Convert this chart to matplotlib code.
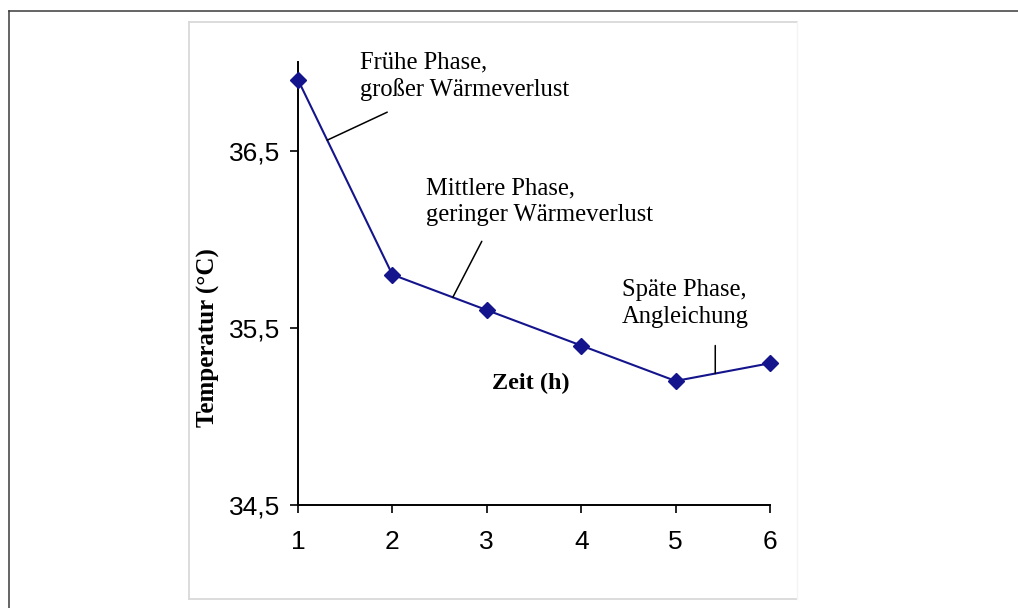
import numpy as np
import matplotlib
matplotlib.use("Agg")
import matplotlib.pyplot as plt
from matplotlib.lines import Line2D

# data
zeit = [1, 2, 3, 4, 5, 6]
temperatur = [36.9, 35.8, 35.6, 35.4, 35.2, 35.3]
y_ticks = [34.5, 35.5, 36.5]
phase_texts = ["Frühe Phase,\ngroßer Wärmeverlust",
               "Mittlere Phase,\ngeringer Wärmeverlust",
               "Späte Phase,\nAngleichung"]

serif = "Liberation Serif"
sans = "Liberation Sans"

fig = plt.figure(figsize=(10.18, 6.08), dpi=100)
ax = fig.add_axes([0.2927, 0.1694, 0.4637, 0.7286])

ax.plot(zeit, temperatur, color="#14148c", linewidth=1.5, marker="D",
        markersize=8, markerfacecolor="#14148c", markeredgecolor="#14148c",
        clip_on=False, zorder=3)

ax.set_xlim(1, 6)
ax.set_ylim(34.5, 37.0)
ax.set_xticks(zeit)
ax.set_yticks(y_ticks)
ax.set_yticklabels([f"{v:.1f}".replace(".", ",") for v in y_ticks])
for lab in ax.get_xticklabels() + ax.get_yticklabels():
    lab.set_fontfamily(sans)
    lab.set_fontsize(19)
ax.tick_params(axis="x", length=6, width=1.2, pad=12, color="black")
ax.tick_params(axis="y", length=6, width=1.2, pad=7, color="black")

for s in ["top", "right"]:
    ax.spines[s].set_visible(False)
for s in ["left", "bottom"]:
    ax.spines[s].set_linewidth(1.4)
    ax.spines[s].set_color("black")

ax.set_xlabel("Zeit (h)", fontfamily=serif, fontweight="bold", fontsize=17.5)
ax.xaxis.label.set_va("center")
ax.xaxis.set_label_coords(0.4936, 0.275)
ax.set_ylabel("Temperatur (°C)", fontfamily=serif, fontweight="bold", fontsize=18)
ax.yaxis.label.set_va("center")
ax.yaxis.set_label_coords(-0.1886, 0.379)

# leader lines from the curve
anchors = [1.31, 2.64, 5.42]
offsets = [(60, 28), (29, 56), (0, 28)]
for xa, off in zip(anchors, offsets):
    ya = np.interp(xa, zeit, temperatur)
    ax.annotate("", xy=(xa, ya), xytext=off, textcoords="offset pixels",
                arrowprops=dict(arrowstyle="-", color="black", lw=1.1,
                                shrinkA=0, shrinkB=0))

# phase labels
text_pos = [(1.657, 37.06), (2.36, 36.35), (4.43, 35.775)]
for (tx, ty), t in zip(text_pos, phase_texts):
    ax.text(tx, ty, t, fontfamily=serif, fontsize=17.7, ha="left", va="top",
            linespacing=1.27, clip_on=False)

# chart area border (light gray) and outer frame
gray = "#d9d9d9"
l, r, t, b = 0.1857, 0.7829, 0.9638, 0.0148
fig.add_artist(Line2D([l, r], [t, t], color=gray, lw=1.3, transform=fig.transFigure))
fig.add_artist(Line2D([l, l], [b, t], color=gray, lw=1.3, transform=fig.transFigure))
fig.add_artist(Line2D([l, r], [b, b], color=gray, lw=1.3, transform=fig.transFigure))
fig.add_artist(Line2D([r, r], [b, t], color="#f4f4f4", lw=1.0, transform=fig.transFigure))

fig.add_artist(Line2D([0.0088, 1.0], [0.9827, 0.9827], color="#3a3a3a", lw=1.1, transform=fig.transFigure))
fig.add_artist(Line2D([0.0088, 0.0088], [0.0, 0.9827], color="#3a3a3a", lw=1.1, transform=fig.transFigure))

fig.savefig("out.png", dpi=100)
